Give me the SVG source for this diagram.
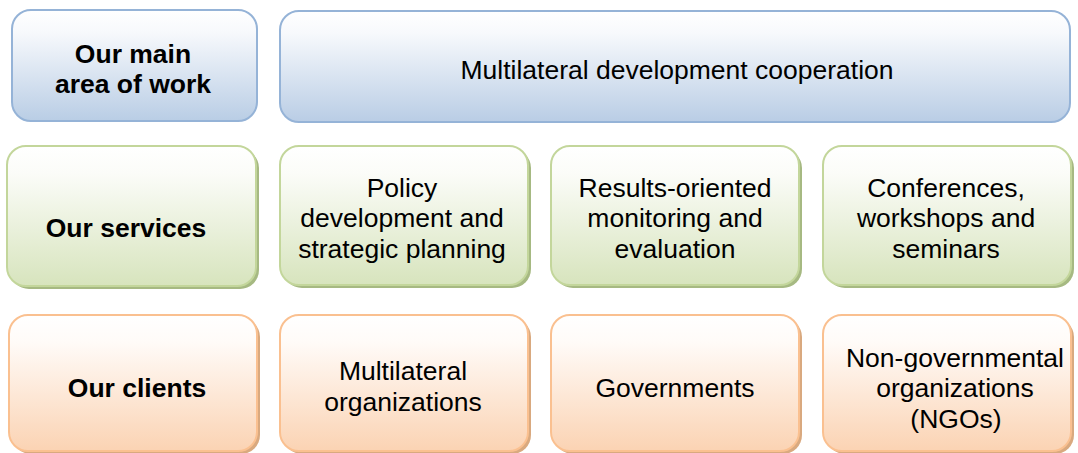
<svg xmlns="http://www.w3.org/2000/svg" width="1078" height="453" viewBox="0 0 1078 453">
<defs>
<linearGradient id="gb" x1="0" y1="0" x2="0" y2="1">
<stop offset="0" stop-color="#ffffff"/><stop offset="0.2" stop-color="#f7f9fc"/><stop offset="1" stop-color="#b9cde5"/>
</linearGradient>
<linearGradient id="gg" x1="0" y1="0" x2="0" y2="1">
<stop offset="0" stop-color="#ffffff"/><stop offset="0.2" stop-color="#fbfcf8"/><stop offset="1" stop-color="#d7e4bd"/>
</linearGradient>
<linearGradient id="go" x1="0" y1="0" x2="0" y2="1">
<stop offset="0" stop-color="#ffffff"/><stop offset="0.2" stop-color="#fffbf8"/><stop offset="1" stop-color="#fbd3b3"/>
</linearGradient>
</defs>
<style>
.b{fill:url(#gb);stroke:#95b3d7;stroke-width:2}
.g{fill:url(#gg);stroke:#c3d69b;stroke-width:2}
.o{fill:url(#go);stroke:#fac090;stroke-width:2}
.sg{fill:#a6b982}
.so{fill:#d9a97f}
text{font-family:"Liberation Sans",Arial,sans-serif;font-size:26.5px;fill:#000;text-anchor:middle}
.h{font-weight:bold}
</style>
<g id="connectors"></g>
<g id="n-area">
<rect class="b" x="12" y="10" width="245" height="111" rx="19"/>
<text class="h" x="133" y="63">Our main</text>
<text class="h" x="133" y="93">area of work</text>
</g>
<g id="n-mdc">
<rect class="b" x="280" y="11" width="790" height="111" rx="19"/>
<text x="677" y="79">Multilateral development cooperation</text>
</g>
<g id="n-services">
<rect class="sg" x="10" y="149" width="249" height="140" rx="19"/>
<rect class="g" x="7" y="146" width="249" height="140" rx="19"/>
<text class="h" x="126" y="237">Our services</text>
</g>
<g id="n-policy">
<rect class="sg" x="283" y="149" width="248" height="139" rx="19"/>
<rect class="g" x="280" y="146" width="248" height="139" rx="19"/>
<text x="402" y="197">Policy</text>
<text x="402" y="227">development and</text>
<text x="402" y="258">strategic planning</text>
</g>
<g id="n-results">
<rect class="sg" x="554" y="149" width="248" height="139" rx="19"/>
<rect class="g" x="551" y="146" width="248" height="139" rx="19"/>
<text x="675" y="197">Results-oriented</text>
<text x="675" y="227">monitoring and</text>
<text x="675" y="258">evaluation</text>
</g>
<g id="n-conf">
<rect class="sg" x="826" y="149" width="248" height="139" rx="19"/>
<rect class="g" x="823" y="146" width="248" height="139" rx="19"/>
<text x="946" y="197">Conferences,</text>
<text x="946" y="227">workshops and</text>
<text x="946" y="258">seminars</text>
</g>
<g id="n-clients">
<rect class="so" x="12" y="318" width="248" height="136" rx="19"/>
<rect class="o" x="9" y="315" width="248" height="136" rx="19"/>
<text class="h" x="137" y="397">Our clients</text>
</g>
<g id="n-multi">
<rect class="so" x="283" y="318" width="248" height="136" rx="19"/>
<rect class="o" x="280" y="315" width="248" height="136" rx="19"/>
<text x="403" y="380">Multilateral</text>
<text x="403" y="411">organizations</text>
</g>
<g id="n-gov">
<rect class="so" x="554" y="318" width="248" height="136" rx="19"/>
<rect class="o" x="551" y="315" width="248" height="136" rx="19"/>
<text x="675" y="397">Governments</text>
</g>
<g id="n-ngo">
<rect class="so" x="826" y="318" width="248" height="136" rx="19"/>
<rect class="o" x="823" y="315" width="248" height="136" rx="19"/>
<text x="955" y="367">Non-governmental</text>
<text x="955" y="397">organizations</text>
<text x="956" y="428">(NGOs)</text>
</g>
</svg>
